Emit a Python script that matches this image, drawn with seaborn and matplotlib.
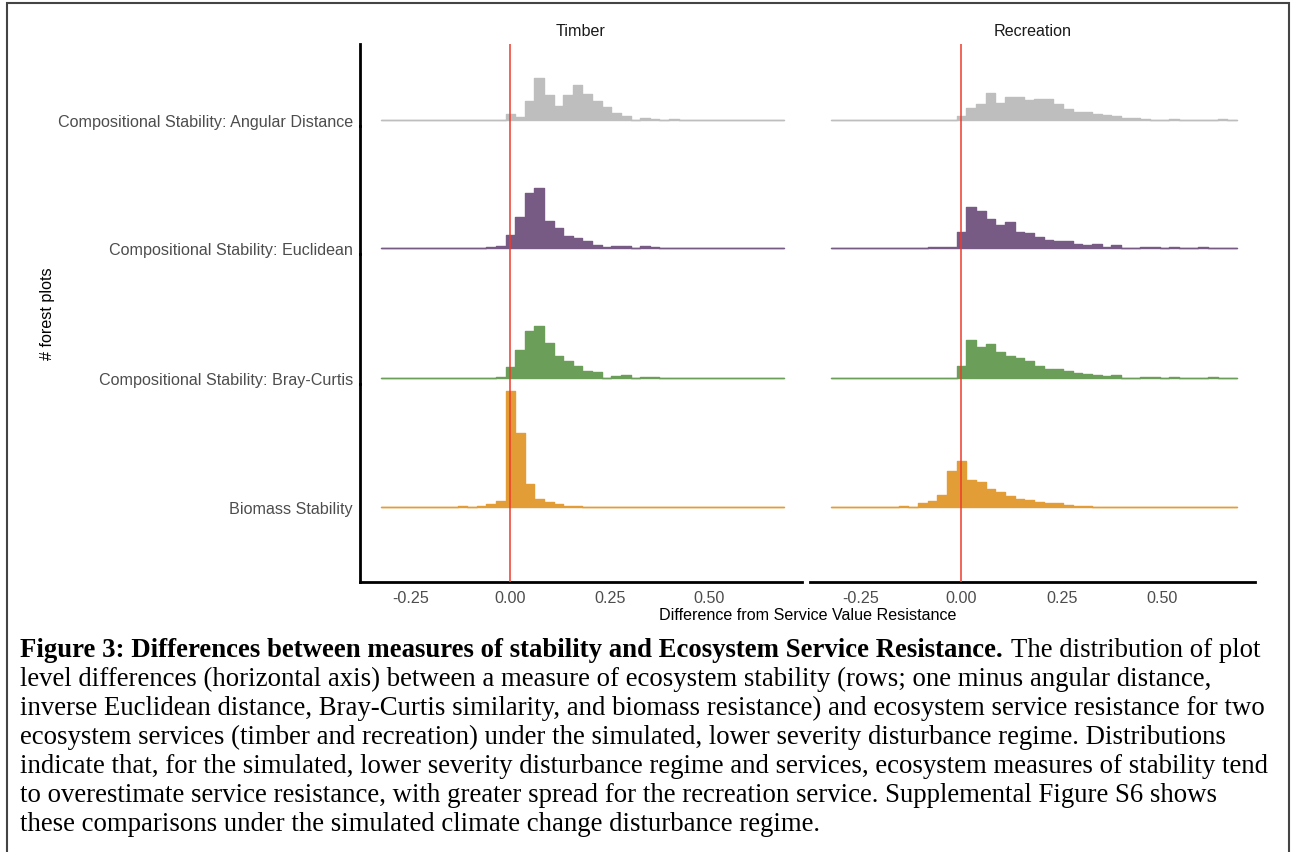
import matplotlib
matplotlib.use("Agg")
import matplotlib.pyplot as plt
import numpy as np
import pandas as pd
import seaborn as sns
from matplotlib.patches import Rectangle

# ================================
# Ridgeline histograms: stability measures minus service resistance
# ================================

# bin layout of the histograms (42 bins over the observed range)
n_bins = 42
bin_range = (-0.325, 0.6875)
bin_edges = np.linspace(bin_range[0], bin_range[1], n_bins + 1)
bin_mid = (bin_edges[:-1] + bin_edges[1:]) / 2

services = ["Timber", "Recreation"]
measures = [
    "Compositional Stability: Angular Distance",
    "Compositional Stability: Euclidean",
    "Compositional Stability: Bray-Curtis",
    "Biomass Stability",
]
measure_colors = ["#BEBEBE", "#785B85", "#6B9E59", "#E39D37"]

# number of forest plots per bin (relative counts)
timber_angular = [0, 0, 0, 0, 0, 0, 0, 0, 0, 0, 0, 0, 0,
                  6, 3, 19, 42, 25, 14, 25, 35, 26, 19, 13, 7, 4, 0.5, 2, 1, 0.5, 1.3,
                  0, 0, 0, 0, 0, 0, 0, 0, 0, 0, 0]
timber_euclid = [0, 0, 0, 0, 0, 0, 0, 0, 0, 0, 0, 0.7, 2,
                 12.7, 31, 55, 60, 27, 20, 12, 10, 7, 3, 1.3, 2, 1.7, 0, 1.7, 1,
                 0, 0, 0, 0, 0, 0, 0, 0, 0, 0, 0, 0, 0]
timber_bray = [0, 0, 0, 0, 0, 0, 0, 0, 0, 0, 0, 0.3, 1,
               10.7, 28, 47, 52, 35, 22, 17, 12, 7, 6.3, 0, 2, 2.7, 0, 1.3, 0.7, 0.3,
               0, 0, 0, 0, 0, 0, 0, 0, 0, 0, 0, 0]
timber_biomass = [0.3, 0, 0.5, 0, 0, 0.3, 0, 0.5, 1, 0, 1, 2.7, 6.3,
                  116, 74, 23, 7.7, 5, 3.3, 1, 0.7,
                  0, 0, 0, 0, 0, 0, 0, 0, 0, 0, 0, 0, 0, 0, 0, 0, 0, 0, 0, 0, 0]

rec_angular = [0, 0, 0, 0, 0, 0, 0, 0, 0, 0, 0, 0, 0,
               3.7, 12, 16.3, 26.7, 17.3, 22.7, 22.7, 20, 20.7, 20.7, 16.3, 10.7, 8.3, 8.3,
               5.7, 4.7, 3.7, 2, 2.3, 1.3, 0.3, 0.5, 0.7, 0.3, 0.5, 0.3, 0.5, 0.7, 0.3]
rec_euclid = [0, 0, 0, 0, 0, 0, 0, 0, 0, 0, 0.7, 1, 1,
              15.7, 41, 36.7, 29.3, 23.3, 26.3, 16, 15.3, 11.3, 8, 6.7, 7, 4.3, 3.3, 3.7,
              1, 3, 0, 0.3, 1.3, 1, 0.3, 1, 0.3, 0.3, 1, 0.3, 0, 0]
rec_bray = [0, 0, 0, 0, 0, 0, 0, 0, 0, 0, 0, 0.3, 0.3,
            11.7, 38, 31, 34, 25.7, 21.7, 19.7, 17.3, 11.7, 8.7, 8.7, 7, 4.7, 3.7, 2.7,
            2, 3.3, 0.3, 0.3, 0.7, 1, 0.3, 0.7, 0.3, 0.3, 0.3, 0.7, 0.3, 0]
rec_biomass = [0, 0.3, 0, 0.3, 0, 0.5, 0, 1.3, 0.3, 4, 5.7, 12, 35.7,
               45.7, 27, 24.7, 18, 15.3, 11, 8.3, 7, 5.3, 4.3, 4.3, 2.3, 1.3, 1.3, 0.3,
               0, 0, 0.3, 0, 0, 0.3, 0, 0, 0.3, 0, 0, 0, 0.3, 0]

counts = {
    "Timber": [timber_angular, timber_euclid, timber_bray, timber_biomass],
    "Recreation": [rec_angular, rec_euclid, rec_bray, rec_biomass],
}

x_ticks = [-0.25, 0.0, 0.25, 0.50]
x_ticklabels = ["-0.25", "0.00", "0.25", "0.50"]

caption_bold = ("Figure 3: Differences between measures of stability and "
                "Ecosystem Service Resistance.")
caption_lines = [
    "The distribution of plot",
    "level differences (horizontal axis) between a measure of ecosystem stability (rows; one minus angular distance,",
    "inverse Euclidean distance, Bray-Curtis similarity, and biomass resistance) and ecosystem service resistance for two",
    "ecosystem services (timber and recreation) under the simulated, lower severity disturbance regime. Distributions",
    "indicate that, for the simulated, lower severity disturbance regime and services, ecosystem measures of stability tend",
    "to overestimate service resistance, with greater spread for the recreation service. Supplemental Figure S6 shows",
    "these comparisons under the simulated climate change disturbance regime.",
]

# ================================
# FIGURE
# ================================

sns.set_theme(style="white")
plt.rcParams["font.family"] = ["Liberation Sans", "DejaVu Sans"]

W, H = 1291, 853
fig = plt.figure(figsize=(W / 100, H / 100), dpi=100)


def px_axes(x0, y0, x1, y1):
    return fig.add_axes([x0 / W, 1 - y1 / H, (x1 - x0) / W, (y1 - y0) / H])


panel_x = [(360, 802), (810, 1255)]
row_box = [(45, 127), (127, 255), (255, 385), (385, 583)]
row_base = [121, 249, 379, 508]
tick_color = "#4D4D4D"
fs = 11.6

for c, service in enumerate(services):
    x0, x1 = panel_x[c]
    for r, measure in enumerate(measures):
        top, bot = row_box[r]
        ax = px_axes(x0, top, x1, bot)
        df = pd.DataFrame({"diff": bin_mid, "n": counts[service][r]})
        sns.histplot(data=df, x="diff", weights="n", bins=n_bins,
                     binrange=bin_range, element="step", fill=True,
                     color=measure_colors[r], alpha=1, linewidth=1, ax=ax)
        ax.axvline(0, color="#EE3B2B", lw=1.1, zorder=5)
        ax.set_xlim(-0.377, 0.732)
        ax.set_ylim(-(bot - row_base[r]), row_base[r] - top)
        ax.set_xlabel("")
        ax.set_ylabel("")
        for s in ax.spines.values():
            s.set_visible(False)
        ax.set_facecolor("none")
        if c == 0:
            ax.spines["left"].set_visible(True)
            ax.spines["left"].set_color("black")
            ax.spines["left"].set_linewidth(2)
            ax.set_yticks([0])
            ax.set_yticklabels([measure], fontsize=fs, color=tick_color)
        else:
            ax.set_yticks([])
        ax.tick_params(axis="y", length=0, pad=5)
        if r == len(measures) - 1:
            ax.spines["bottom"].set_visible(True)
            ax.spines["bottom"].set_color("black")
            ax.spines["bottom"].set_linewidth(2)
            ax.set_xticks(x_ticks)
            ax.set_xticklabels(x_ticklabels, fontsize=fs, color=tick_color)
            ax.tick_params(axis="x", length=0, pad=6)
        else:
            ax.set_xticks([])
    fig.text((x0 + x1) / 2 / W, 1 - 31 / H, service, ha="center", va="center",
             fontsize=fs, color="#1A1A1A")

fig.text(47 / W, 1 - 314 / H, "# forest plots", rotation=90, ha="center",
         va="center", fontsize=fs, color="black")
fig.text(808 / W, 1 - 616 / H, "Difference from Service Value Resistance",
         ha="center", va="center", fontsize=fs, color="black")

# caption, serif like the document text
cap_font = ["Liberation Serif", "DejaVu Serif"]
cap_fs = 19.3
renderer = fig.canvas.get_renderer()
b = fig.text(20 / W, 1 - 657 / H, caption_bold, family=cap_font, weight="bold",
             fontsize=cap_fs, va="baseline", color="black")
bb = b.get_window_extent(renderer=renderer)
fig.text((bb.x1 + 8) / W, 1 - 657 / H, caption_lines[0], family=cap_font,
         fontsize=cap_fs, va="baseline", color="black")
for i, line in enumerate(caption_lines[1:], start=1):
    fig.text(20 / W, 1 - (657 + 29 * i) / H, line, family=cap_font,
             fontsize=cap_fs, va="baseline", color="black")

fig.patches.append(Rectangle((7 / W, -0.02), 1282 / W, 1.02 - 4 / H,
                             transform=fig.transFigure, fill=False,
                             edgecolor="#444444", linewidth=1.5))

fig.savefig("out.png", dpi=100)
